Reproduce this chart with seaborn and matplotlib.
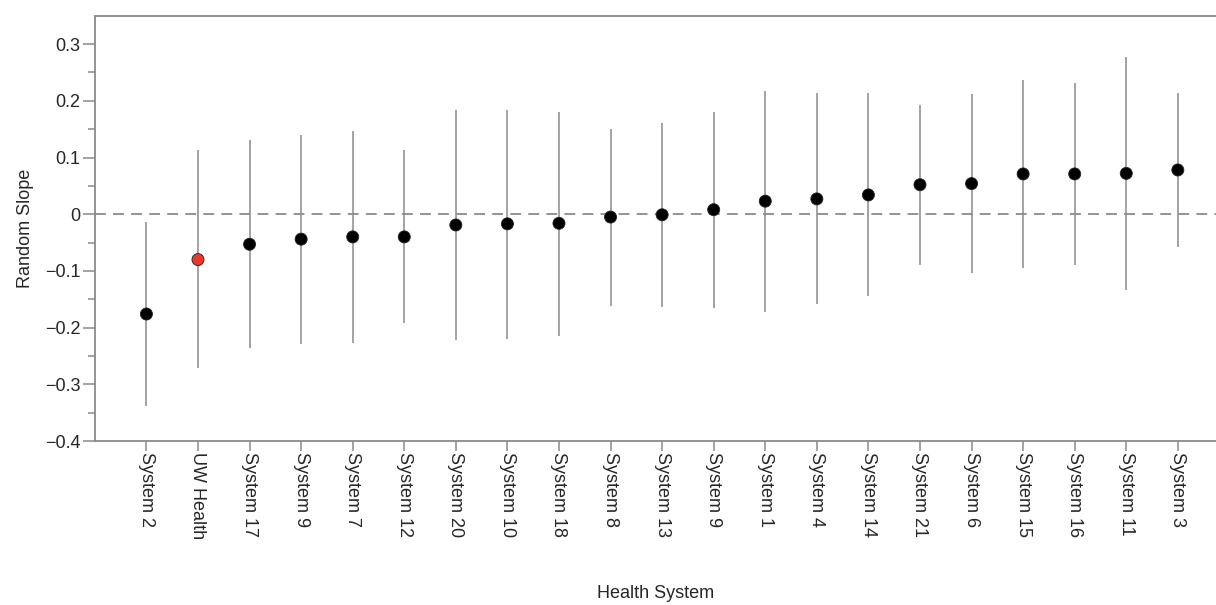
# Random slope by health system - point estimates with intervals

import numpy as np
import pandas as pd
import matplotlib
matplotlib.use("Agg")
import matplotlib.pyplot as plt
import seaborn as sns
from matplotlib.ticker import FixedLocator


# ============================================
# Data
# ============================================

systems = [
    "System 2", "UW Health", "System 17", "System 9", "System 7",
    "System 12", "System 20", "System 10", "System 18", "System 8",
    "System 13", "System 9", "System 1", "System 4", "System 14",
    "System 21", "System 6", "System 15", "System 16", "System 11",
    "System 3",
]

slope = [
    -0.176, -0.080, -0.053, -0.044, -0.040,
    -0.040, -0.019, -0.017, -0.016, -0.005,
    -0.001, 0.008, 0.023, 0.027, 0.034,
    0.052, 0.054, 0.071, 0.071, 0.072,
    0.078,
]

upper = [
    -0.014, 0.113, 0.131, 0.140, 0.147,
    0.113, 0.183, 0.184, 0.181, 0.150,
    0.160, 0.180, 0.218, 0.213, 0.213,
    0.193, 0.212, 0.237, 0.232, 0.277,
    0.213,
]

lower = [
    -0.338, -0.272, -0.236, -0.229, -0.227,
    -0.192, -0.221, -0.220, -0.214, -0.161,
    -0.164, -0.166, -0.172, -0.158, -0.145,
    -0.089, -0.104, -0.095, -0.089, -0.134,
    -0.058,
]

highlight = "UW Health"

y_ticks = [-0.4, -0.3, -0.2, -0.1, 0, 0.1, 0.2, 0.3]
y_ticklabels = ["\u22120.4", "\u22120.3", "\u22120.2", "\u22120.1",
                "0", "0.1", "0.2", "0.3"]
y_minor = [-0.35, -0.25, -0.15, -0.05, 0.05, 0.15, 0.25]


data = pd.DataFrame({
    "pos": np.arange(len(systems)),
    "system": systems,
    "slope": slope,
    "upper": upper,
    "lower": lower,
})
data["group"] = np.where(data["system"] == highlight, "uw", "other")


# ============================================
# Plot
# ============================================

sns.set_style("white")
plt.rcParams["font.family"] = ["Liberation Sans", "DejaVu Sans"]

grey = "#8a8a8a"
fs = 13

fig = plt.figure(figsize=(12.16, 6.05), dpi=100)
ax = fig.add_axes([0.078, 0.271, 0.922, 0.703])

# zero reference line
ax.axhline(0, color=grey, lw=1.3, ls=(0, (6, 4)), zorder=1)

# intervals
ax.vlines(data["pos"], data["lower"], data["upper"], color=grey, lw=1.1, zorder=2)

# point estimates
sns.scatterplot(
    data=data,
    x="pos",
    y="slope",
    hue="group",
    palette={"other": "black", "uw": "#e8392b"},
    s=75,
    edgecolor="#222222",
    linewidth=0.6,
    legend=False,
    zorder=3,
    clip_on=False,
    ax=ax,
)

ax.set_xlim(-1, len(systems) - 1 + 0.74)
ax.set_ylim(-0.4, 0.35)

ax.set_xticks(data["pos"])
ax.set_xticklabels(systems, rotation=270, fontsize=fs)
ax.set_yticks(y_ticks)
ax.set_yticklabels(y_ticklabels, fontsize=fs)
ax.yaxis.set_minor_locator(FixedLocator(y_minor))

ax.tick_params(axis="y", which="major", left=True, length=8.5, width=1.1,
               color=grey, pad=2)
ax.tick_params(axis="y", which="minor", left=True, length=5, width=1.1,
               color=grey)
ax.tick_params(axis="x", which="major", bottom=True, length=7, width=1.1,
               color=grey, pad=1)

for side in ["left", "bottom", "top"]:
    ax.spines[side].set_visible(True)
    ax.spines[side].set_color(grey)
    ax.spines[side].set_linewidth(1.3)
ax.spines["right"].set_visible(False)

ax.set_xlabel("Health System", fontsize=fs, labelpad=33)
ax.set_ylabel("Random Slope", fontsize=fs, labelpad=8)

fig.savefig("out.png", dpi=100)
